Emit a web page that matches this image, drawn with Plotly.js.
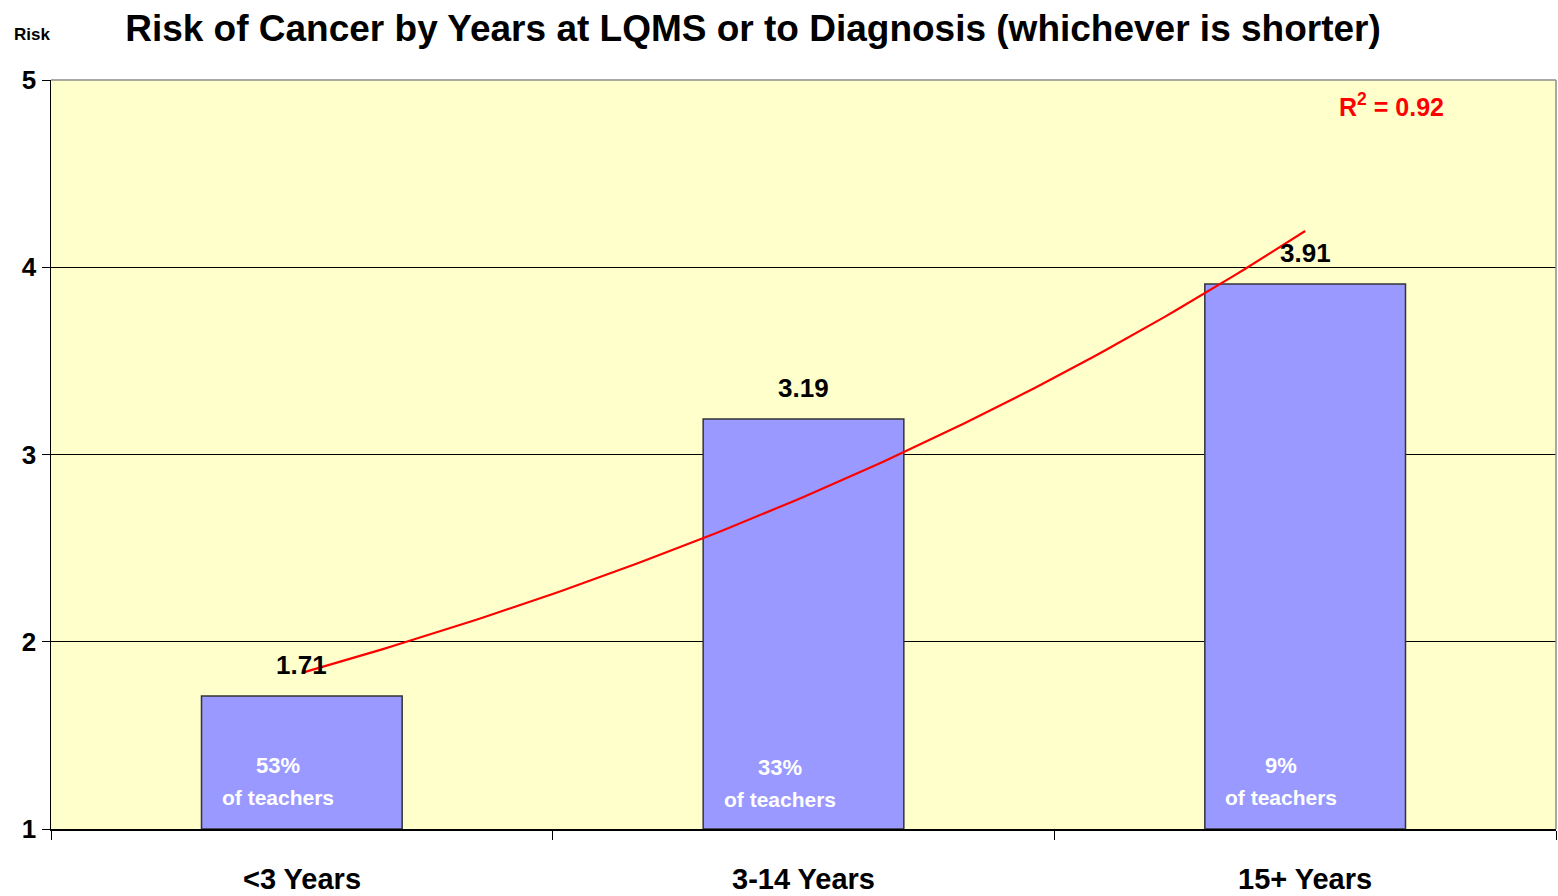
<!DOCTYPE html>
<html>
<head>
<meta charset="utf-8">
<script src="https://cdn.plot.ly/plotly-3.0.1.min.js"></script>
<style>html,body{margin:0;padding:0;background:#fff;}#chart{width:1558px;height:896px;}</style>
</head>
<body>
<div id="chart"></div>
<script>
// ---- data ----
const categories = ["<3 Years", "3-14 Years", "15+ Years"];
const riskValues = [1.71, 3.19, 3.91];
const teacherShares = ["53%", "33%", "9%"];
const teacherNote = "of teachers";
const yTickValues = [1, 2, 3, 4, 5];
const rSquaredText = "R<sup>2</sup> = 0.92";
const titleText = "Risk of Cancer by Years at LQMS or to Diagnosis (whichever is shorter)";
const yAxisLabel = "Risk";

// ---- exponential trendline (least squares on ln y, as a spreadsheet trendline) ----
const xs = categories.map((_, i) => i);
const lny = riskValues.map(v => Math.log(v));
const n = xs.length;
const mx = xs.reduce((a, b) => a + b, 0) / n;
const my = lny.reduce((a, b) => a + b, 0) / n;
let sxy = 0, sxx = 0;
for (let i = 0; i < n; i++) { sxy += (xs[i] - mx) * (lny[i] - my); sxx += (xs[i] - mx) ** 2; }
const slope = sxy / sxx, icpt = my - slope * mx;
const trendX = [], trendY = [];
for (let k = 0; k <= 100; k++) {
  const x = xs[0] + (xs[n - 1] - xs[0]) * k / 100;
  trendX.push(x); trendY.push(Math.exp(icpt + slope * x));
}

const FONT = "Liberation Sans, Arial, sans-serif";
const FLOOR = yTickValues[0];

const bars = {
  type: "bar", x: xs, y: riskValues.map(v => v - FLOOR), base: FLOOR, width: 0.4,
  marker: { color: "#9999FF", line: { color: "#333333", width: 1.5 } },
  hoverinfo: "skip"
};

const trend = {
  type: "scatter", mode: "lines", x: trendX, y: trendY,
  line: { color: "#FF0000", width: 2.2 }, hoverinfo: "skip"
};

const annotations = [];
const innerShift = [0, -2, 0];
riskValues.forEach((v, i) => {
  annotations.push({
    x: xs[i], y: v, xref: "x", yref: "y", text: v.toFixed(2),
    showarrow: false, yanchor: "bottom", yshift: 14,
    font: { family: FONT, size: 26, color: "#000", weight: "bold" }
  });
  annotations.push({
    x: xs[i], y: FLOOR, xref: "x", yref: "y", text: teacherShares[i],
    showarrow: false, yanchor: "middle", yshift: 64 + innerShift[i], xshift: -24,
    font: { family: FONT, size: 22, color: "#FFFFFF", weight: "bold" }
  });
  annotations.push({
    x: xs[i], y: FLOOR, xref: "x", yref: "y", text: teacherNote,
    showarrow: false, yanchor: "middle", yshift: 32 + innerShift[i], xshift: -24,
    font: { family: FONT, size: 21, color: "#FFFFFF", weight: "bold" }
  });
  annotations.push({
    x: xs[i], y: 0, xref: "x", yref: "paper", text: categories[i],
    showarrow: false, yanchor: "middle", yshift: -50,
    font: { family: FONT, size: 29, color: "#000", weight: "bold" }
  });
});
annotations.push({
  x: (1446 - 51) / 1505, y: 1 - (105 - 80) / 749, xref: "paper", yref: "paper",
  xanchor: "right", yanchor: "middle",
  text: rSquaredText, showarrow: false,
  font: { family: FONT, size: 25, color: "#FF0000", weight: "bold" }
});
annotations.push({
  x: (12 - 51) / 1505, y: 1 + (80 - 35) / 749, xref: "paper", yref: "paper",
  text: yAxisLabel, showarrow: false, xanchor: "left", yanchor: "middle",
  font: { family: FONT, size: 17, color: "#000", weight: "bold" }
});

const layout = {
  width: 1558, height: 896,
  margin: { l: 51, r: 2, t: 80, b: 67, pad: 0 },
  paper_bgcolor: "#FFFFFF", plot_bgcolor: "#FFFFCC",
  showlegend: false,
  title: {
    text: titleText, x: 753 / 1558, xanchor: "center", xref: "container",
    y: 1 - 28 / 896, yanchor: "middle", yref: "container",
    font: { family: FONT, size: 37, color: "#000", weight: "bold" }
  },
  xaxis: {
    range: [-0.5, 2.5], showticklabels: false, showgrid: false, zeroline: false,
    tickvals: [-0.5, 0.5, 1.5, 2.5], ticks: "outside", ticklen: 9, tickcolor: "#000", tickwidth: 1,
    showline: true, linecolor: "#000", linewidth: 1.5, fixedrange: true
  },
  yaxis: {
    range: [yTickValues[0], yTickValues[yTickValues.length - 1]], tickvals: yTickValues,
    ticks: "outside", ticklen: 8, tickcolor: "#000", tickwidth: 1,
    showgrid: true, gridcolor: "#000", gridwidth: 1, zeroline: false,
    showline: true, linecolor: "#000", linewidth: 1.5,
    tickfont: { family: FONT, size: 26, color: "#000", weight: "bold" },
    fixedrange: true
  },
  shapes: [
    { type: "line", xref: "paper", yref: "paper", x0: 0, x1: 1, y0: 1, y1: 1, line: { color: "#8C8C8C", width: 1.5 }, layer: "above" },
    { type: "line", xref: "paper", yref: "paper", x0: 1, x1: 1, y0: 0, y1: 1, line: { color: "#8C8C8C", width: 1.5 }, layer: "above" }
  ],
  annotations: annotations
};

Plotly.newPlot("chart", [bars, trend], layout, { displayModeBar: false, staticPlot: true });
</script>
</body>
</html>
